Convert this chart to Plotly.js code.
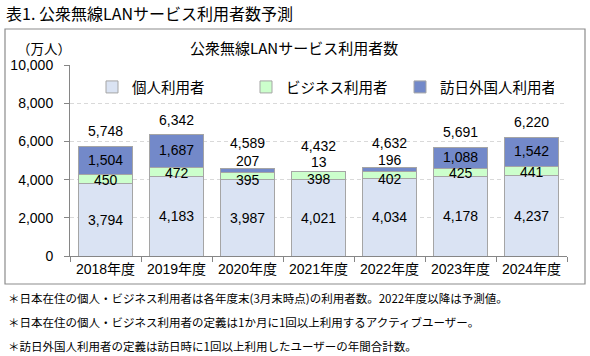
<!DOCTYPE html>
<html>
<head>
<meta charset="utf-8">
<script src="https://cdn.plot.ly/plotly-3.0.1.min.js"></script>
<style>
html,body{margin:0;padding:0;background:#fff;}
#chart{width:590px;height:356px;}
</style>
</head>
<body>
<div id="chart"></div>
<script>
// ---- data ----
var categories = ["2018年度","2019年度","2020年度","2021年度","2022年度","2023年度","2024年度"];
var personal = [3794, 4183, 3987, 4021, 4034, 4178, 4237];
var business = [450, 472, 395, 398, 402, 425, 441];
var foreign  = [1504, 1687, 207, 13, 196, 1088, 1542];
var totals   = [5748, 6342, 4589, 4432, 4632, 5691, 6220];
var seriesNames = ["個人利用者", "ビジネス利用者", "訪日外国人利用者"];
var yTickVals = [0, 2000, 4000, 6000, 8000, 10000];

var mainTitle = "表1. 公衆無線LANサービス利用者数予測";
var chartTitle = "公衆無線LANサービス利用者数";
var unitLabel = "（万人）";
var notes = [
  "＊日本在住の個人・ビジネス利用者は各年度末(3月末時点)の利用者数。2022年度以降は予測値。",
  "＊日本在住の個人・ビジネス利用者の定義は1か月に1回以上利用するアクティブユーザー。",
  "＊訪日外国人利用者の定義は訪日時に1回以上利用したユーザーの年間合計数。"
];

// ---- layout geometry ----
var W = 590, H = 356;
var M = {l: 70, r: 23, t: 65, b: 100};
var PW = W - M.l - M.r, PH = H - M.t - M.b;
function px(x){ return (x - M.l) / PW; }
function py(y){ return (H - M.b - y) / PH; }

var numFont = {family: "Liberation Sans, Arial, sans-serif", size: 14, color: "#000"};
var jpFont = "Noto Sans CJK JP, sans-serif";
var edge = {color: "#a5a5a5", width: 1};
var colors = ["#dae3f3", "#ccffcc", "#7389c9"];

function fmt(v){ return v.toLocaleString("en-US"); }

var values = [personal, business, foreign];
var traces = values.map(function(vals, i){
  return {
    type: "bar", name: seriesNames[i], x: categories, y: vals,
    marker: {color: colors[i], line: edge},
    hoverinfo: "skip", textposition: "none"
  };
});

var annotations = [];
categories.forEach(function(c, k){
  var p = personal[k], b = business[k], f = foreign[k], t = totals[k];
  var small = f < 300;
  annotations.push({x: c, y: p / 2, xref: "x", yref: "y", text: fmt(p), showarrow: false, font: numFont, yanchor: "middle"});
  annotations.push({x: c, y: p + b / 2, xref: "x", yref: "y", text: fmt(b), showarrow: false, font: numFont, yanchor: "middle", yshift: small ? -4 : -1});
  annotations.push({x: c, y: p + b + f / 2, xref: "x", yref: "y", text: fmt(f), showarrow: false, font: numFont, yanchor: "middle", yshift: small ? 9 : 1});
  annotations.push({x: c, y: p + b + f, xref: "x", yref: "y", text: fmt(t), showarrow: false, font: numFont, yanchor: "middle", yshift: small ? 25 : 15});
});

annotations.push({xref: "paper", yref: "paper", x: px(4), y: py(12.5), xanchor: "left", yanchor: "middle", text: mainTitle, showarrow: false, font: {family: jpFont, size: 16, color: "#000"}});
annotations.push({xref: "paper", yref: "paper", x: px(294), y: py(48), xanchor: "center", yanchor: "middle", text: chartTitle, showarrow: false, font: {family: jpFont, size: 15, color: "#000"}});
annotations.push({xref: "paper", yref: "paper", x: px(15), y: py(48), xanchor: "left", yanchor: "middle", text: unitLabel, showarrow: false, font: {family: jpFont, size: 13.5, color: "#000"}});
notes.forEach(function(n, i){
  annotations.push({xref: "paper", yref: "paper", x: px(6), y: py(298 + i * 24), xanchor: "left", yanchor: "middle", text: n, showarrow: false, font: {family: jpFont, size: 11.5, color: "#000"}});
});

var axisColor = "#868686";
var layout = {
  width: W, height: H,
  margin: M,
  paper_bgcolor: "#fff", plot_bgcolor: "#fff",
  barmode: "stack", bargap: 0.24,
  showlegend: true,
  legend: {
    orientation: "h", x: px(92), xanchor: "left", y: py(87), yanchor: "middle",
    font: {family: jpFont, size: 14.5, color: "#000"},
    entrywidth: 109, entrywidthmode: "pixels",
    traceorder: "normal", bgcolor: "rgba(0,0,0,0)"
  },
  xaxis: {
    type: "category", showline: true, linecolor: axisColor, linewidth: 1,
    ticks: "outside", tickson: "boundaries", ticklen: 5, tickcolor: axisColor,
    tickfont: {family: "Liberation Sans, Noto Sans CJK JP, sans-serif", size: 14, color: "#000"},
    showgrid: false, zeroline: false, fixedrange: true
  },
  yaxis: {
    range: [0, 10000], tickvals: yTickVals, tickformat: ",d",
    showline: true, linecolor: axisColor, linewidth: 1,
    ticks: "outside", ticklen: 5, tickcolor: axisColor, ticklabelstandoff: 8,
    tickfont: {family: "Liberation Sans, Arial, sans-serif", size: 14, color: "#000"},
    showgrid: true, gridcolor: "#d9d9d9", griddash: "4px,3px", gridwidth: 1,
    zeroline: false, fixedrange: true
  },
  shapes: [{
    type: "rect", xref: "paper", yref: "paper",
    x0: px(5), x1: px(585), y0: py(284), y1: py(29),
    line: {color: "#8c8c8c", width: 1.2}, fillcolor: "rgba(0,0,0,0)", layer: "below"
  }],
  annotations: annotations
};

Plotly.newPlot("chart", traces, layout, {displayModeBar: false, staticPlot: true});
</script>
</body>
</html>
